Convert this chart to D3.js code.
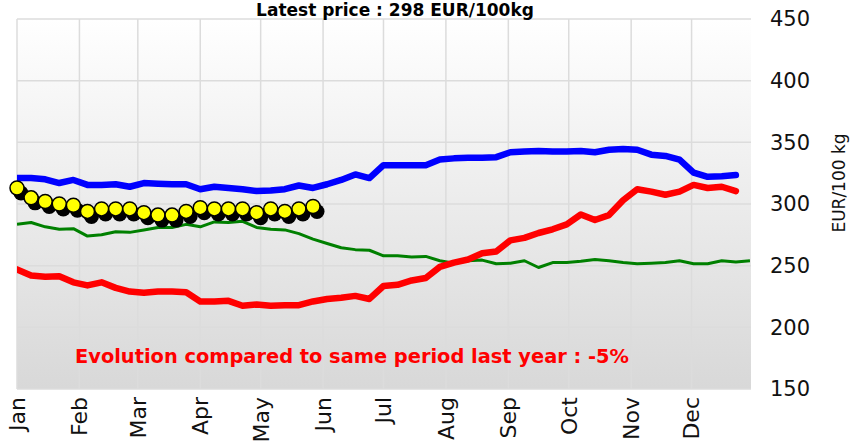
<!DOCTYPE html>
<html>
<head>
<meta charset="utf-8">
<script src="https://cdn.jsdelivr.net/npm/d3@7"></script>
<style>
  body { margin: 0; background: #fff; }
  text { font-family: "DejaVu Sans", Verdana, sans-serif; }
</style>
</head>
<body>
<div id="chart"></div>
<script>
// chart data, one value per week (week 1 starts Jan 1)
var currentYear = [313, 305, 302, 300, 299, 294, 296, 296, 296, 293, 291, 291, 294, 297, 296, 296, 296, 293, 296, 294, 296, 298];

var blueSeries = [321, 321, 320, 317, 319.5, 315.5, 315.5, 316, 314, 317, 316.5, 316, 316, 312, 314, 313, 312, 310.5,
  311, 312, 315, 313, 316, 319.5, 324, 321, 331.5, 331.5, 331.5, 331.5, 336, 337, 337.5, 337.5, 338, 342,
  342.5, 343, 342.5, 342.5, 343, 342, 344, 344.5, 344, 340, 339, 336, 325.5, 322, 322.5, 323.5];

var redSeries = [247, 242, 241, 241.5, 236.5, 234, 236.5, 232, 229, 228, 229, 229, 228.5, 221, 221, 221.5,
  217.5, 218.5, 217.5, 218, 218, 221, 223, 224, 225.5, 223, 233.5, 234.5, 238, 240, 249, 252.5, 255,
  260, 261.5, 270.5, 272.5, 276.5, 279.5, 283.5, 291.5, 287, 291, 303, 312, 310, 307.5, 310, 315.5, 313, 314, 310.5];

var greenSeries = [283.5, 285, 281.5, 279.5, 280, 274, 275, 277.5, 277, 279, 281, 281, 283.5, 281.5, 285.5,
  285, 286, 281, 279.5, 279, 276, 271.5, 268, 264.5, 263, 262.5, 258, 258, 257, 257.5, 254, 252, 254,
  254.5, 251.5, 252, 254, 248.5, 252.5, 252.5, 253.5, 255, 254, 252.5, 251.5, 252, 252.5, 254, 251.5,
  251.5, 254, 253, 254];

var yTicks = [150, 200, 250, 300, 350, 400, 450];
var monthNames = ["Jan", "Feb", "Mar", "Apr", "May", "Jun", "Jul", "Aug", "Sep", "Oct", "Nov", "Dec"];

var titleText = "Latest price : 298 EUR/100kg";
var noteText = "Evolution compared to same period last year : -5%";
var yAxisTitle = "EUR/100 kg";

var svgWidth = 850;
var svgHeight = 447;

var margin = { top: 19, right: 99, bottom: 58, left: 17 };
var chartWidth = svgWidth - margin.left - margin.right;
var chartHeight = svgHeight - margin.top - margin.bottom;

var svg = d3.select("#chart")
  .append("svg")
  .attr("width", svgWidth)
  .attr("height", svgHeight);

// background gradient of the plot area
var defs = svg.append("defs");
var grad = defs.append("linearGradient")
  .attr("id", "bg")
  .attr("x1", 0).attr("y1", 0).attr("x2", 0).attr("y2", 1);
grad.append("stop").attr("offset", "0%").attr("stop-color", "#ffffff");
grad.append("stop").attr("offset", "100%").attr("stop-color", "#d8d8d8");

defs.append("clipPath").attr("id", "clip")
  .append("rect")
  .attr("width", chartWidth)
  .attr("height", chartHeight);

var chartGroup = svg.append("g")
  .attr("transform", `translate(${margin.left}, ${margin.top})`);

var startDate = new Date(2024, 0, 1);
var endDate = new Date(2025, 0, 1);

var xScale = d3.scaleTime()
  .domain([startDate, endDate])
  .range([0, chartWidth + 3]);

var yScale = d3.scaleLinear()
  .domain([150, 450])
  .range([chartHeight, 0]);

function weekDate(i) {
  return d3.timeDay.offset(startDate, i * 7);
}

chartGroup.append("rect")
  .attr("width", chartWidth)
  .attr("height", chartHeight)
  .attr("fill", "url(#bg)");

var months = d3.timeMonth.range(startDate, endDate);

// grid lines
chartGroup.append("g")
  .selectAll("line")
  .data(yTicks)
  .enter()
  .append("line")
  .attr("x1", 0)
  .attr("x2", chartWidth)
  .attr("y1", d => yScale(d))
  .attr("y2", d => yScale(d))
  .attr("stroke", "#dcdcdc")
  .attr("stroke-width", 1.5);

chartGroup.append("g")
  .selectAll("line")
  .data(months)
  .enter()
  .append("line")
  .attr("x1", d => xScale(d))
  .attr("x2", d => xScale(d))
  .attr("y1", 0)
  .attr("y2", chartHeight)
  .attr("stroke", "#dcdcdc")
  .attr("stroke-width", 1.5);

// right axis
var rightAxis = d3.axisRight(yScale)
  .tickValues(yTicks)
  .tickSize(0)
  .tickPadding(19);

var yAxis = chartGroup.append("g")
  .attr("transform", `translate(${chartWidth}, 0)`)
  .call(rightAxis);
yAxis.select(".domain").remove();
yAxis.selectAll("text")
  .attr("font-family", "DejaVu Sans")
  .attr("font-size", 21)
  .attr("fill", "#111");

// month labels
chartGroup.append("g")
  .selectAll("text")
  .data(months)
  .enter()
  .append("text")
  .attr("transform", d => `translate(${xScale(d)}, ${chartHeight + 8}) rotate(-90)`)
  .attr("text-anchor", "end")
  .attr("dy", "0.36em")
  .attr("font-size", 22)
  .attr("fill", "#111")
  .text((d, i) => monthNames[i]);

var line = d3.line()
  .x((d, i) => xScale(weekDate(i)))
  .y(d => yScale(d));

var lines = chartGroup.append("g").attr("clip-path", "url(#clip)");

lines.append("path")
  .datum(greenSeries)
  .attr("d", line)
  .attr("fill", "none")
  .attr("stroke", "#008000")
  .attr("stroke-width", 3)
  .attr("stroke-linejoin", "round");

lines.append("path")
  .datum(redSeries)
  .attr("d", line)
  .attr("fill", "none")
  .attr("stroke", "#ff0000")
  .attr("stroke-width", 6.5)
  .attr("stroke-linejoin", "round")
  .attr("stroke-linecap", "round");

lines.append("path")
  .datum(blueSeries)
  .attr("d", line)
  .attr("fill", "none")
  .attr("stroke", "#0000ff")
  .attr("stroke-width", 6.5)
  .attr("stroke-linejoin", "round")
  .attr("stroke-linecap", "round");

// current year markers with shadow
var dots = chartGroup.append("g");
dots.selectAll(".shadow")
  .data(currentYear)
  .enter()
  .append("circle")
  .attr("class", "shadow")
  .attr("cx", (d, i) => xScale(weekDate(i)) + 4)
  .attr("cy", d => yScale(d) + 5)
  .attr("r", 7.5)
  .attr("fill", "#000");

dots.selectAll(".dot")
  .data(currentYear)
  .enter()
  .append("circle")
  .attr("class", "dot")
  .attr("cx", (d, i) => xScale(weekDate(i)))
  .attr("cy", d => yScale(d))
  .attr("r", 7)
  .attr("fill", "#ffff00")
  .attr("stroke", "#000")
  .attr("stroke-width", 1.5);

// texts
svg.append("text")
  .attr("x", 395)
  .attr("y", 16)
  .attr("text-anchor", "middle")
  .attr("font-size", 17)
  .attr("font-weight", "bold")
  .attr("fill", "#000")
  .text(titleText);

svg.append("text")
  .attr("x", 75)
  .attr("y", 363)
  .attr("font-size", 19.4)
  .attr("font-weight", "bold")
  .attr("fill", "#ff0000")
  .text(noteText);

svg.append("text")
  .attr("transform", "translate(845, 183) rotate(-90)")
  .attr("text-anchor", "middle")
  .attr("font-size", 17)
  .attr("fill", "#111")
  .text(yAxisTitle);
</script>
</body>
</html>
